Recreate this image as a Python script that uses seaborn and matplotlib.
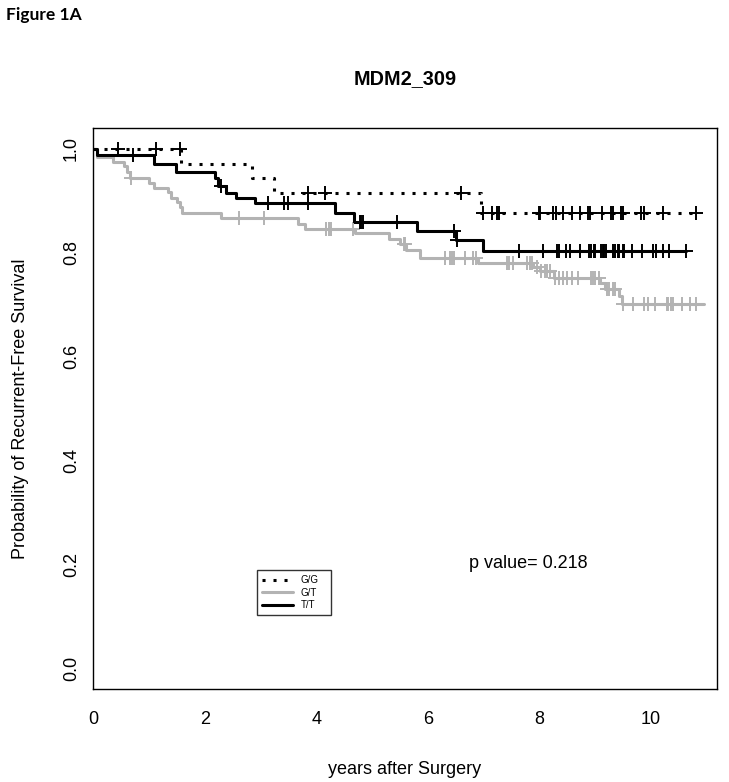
import numpy as np
import pandas as pd
import matplotlib
matplotlib.use("Agg")
import matplotlib.pyplot as plt
import seaborn as sns
from matplotlib.lines import Line2D

sns.set_style("white")
plt.rcParams['font.family'] = ['Liberation Sans', 'DejaVu Sans']
plt.rcParams['text.color'] = 'black'
plt.rcParams['axes.labelcolor'] = 'black'
plt.rcParams['xtick.color'] = 'black'
plt.rcParams['ytick.color'] = 'black'

# ---------------- data ----------------
groups = ["G/G", "G/T", "T/T"]

gg_times = [0, 1.58, 2.84, 3.25, 6.95]
gg_surv = [1.0, 0.971, 0.943, 0.914, 0.876]
gg_end = 10.8
gg_censor = [0.44, 1.12, 1.56, 3.86, 4.15, 6.6, 6.98, 7.14, 7.23, 7.27, 7.99, 8.0,
             8.24, 8.29, 8.42, 8.59, 8.73, 8.87, 8.91, 9.12, 9.28, 9.32, 9.46,
             9.49, 9.82, 9.88, 10.21, 10.8]

gt_times = [0, 0.08, 0.35, 0.56, 0.6, 0.67, 1.0, 1.1, 1.34, 1.4, 1.5, 1.56, 1.6,
            2.3, 3.68, 3.79, 4.7, 5.3, 5.5, 5.6, 5.85, 6.89, 7.88, 8.0, 8.25,
            9.08, 9.18, 9.42, 9.47]
gt_surv = [1.0, 0.985, 0.975, 0.966, 0.956, 0.944, 0.935, 0.925, 0.916, 0.906,
           0.897, 0.887, 0.877, 0.866, 0.855, 0.845, 0.837, 0.826, 0.816, 0.805,
           0.789, 0.780, 0.772, 0.764, 0.751, 0.741, 0.730, 0.716, 0.701]
gt_end = 10.95
gt_censor = [0.68, 2.61, 3.06, 4.18, 4.22, 4.26, 4.65, 5.57, 5.59, 6.3, 6.39,
             6.43, 6.47, 6.67, 6.8, 6.86, 7.41, 7.45, 7.52, 7.78, 7.82, 7.86,
             7.95, 8.03, 8.09, 8.13, 8.18, 8.27, 8.34, 8.42, 8.5, 8.59, 8.68,
             8.93, 8.95, 9.0, 9.06, 9.2, 9.24, 9.31, 9.35, 9.49, 9.67, 9.88,
             9.95, 10.06, 10.28, 10.3, 10.35, 10.39, 10.55, 10.69, 10.81]

tt_times = [0, 0.07, 1.1, 1.48, 2.18, 2.24, 2.38, 2.57, 2.9, 4.33, 4.68, 5.8,
            6.5, 6.98]
tt_surv = [1.0, 0.989, 0.971, 0.956, 0.943, 0.929, 0.914, 0.905, 0.895, 0.877,
           0.860, 0.841, 0.824, 0.803]
tt_end = 10.63
tt_censor = [0.72, 2.3, 3.13, 3.43, 3.49, 3.85, 4.78, 4.81, 4.84, 5.44, 6.46,
             6.53, 7.63, 8.06, 8.31, 8.35, 8.47, 8.54, 8.72, 8.88, 8.93, 8.97,
             9.0, 9.1, 9.13, 9.16, 9.19, 9.32, 9.36, 9.4, 9.43, 9.49, 9.52,
             9.66, 9.84, 10.03, 10.09, 10.22, 10.32, 10.63]

x_ticks = [0, 2, 4, 6, 8, 10]
y_ticks = [0.0, 0.2, 0.4, 0.6, 0.8, 1.0]
p_text = "p value= 0.218"

# ---------------- build tables ----------------
series = {
    "G/G": (gg_times, gg_surv, gg_end, gg_censor),
    "G/T": (gt_times, gt_surv, gt_end, gt_censor),
    "T/T": (tt_times, tt_surv, tt_end, tt_censor),
}
styles = {
    "G/G": dict(color="black", ls=(0, (1.0, 2.6)), lw=2.2),
    "G/T": dict(color="#b3b3b3", ls="-", lw=2.2),
    "T/T": dict(color="black", ls="-", lw=2.2),
}

fig = plt.figure(figsize=(7.29, 7.82), dpi=100)
ax = fig.add_axes([0.1276, 0.1189, 0.8560, 0.7174])

for g in ["G/T", "T/T", "G/G"]:
    t, s, end, cens = series[g]
    st = styles[g]
    df = pd.DataFrame({"time": list(t) + [end], "surv": list(s) + [s[-1]]})
    sns.lineplot(data=df, x="time", y="surv", ax=ax, estimator=None, sort=False,
                 drawstyle="steps-post", color=st["color"], linestyle=st["ls"],
                 linewidth=st["lw"])
    idx = np.searchsorted(np.asarray(t), np.asarray(cens), side="right") - 1
    cdf = pd.DataFrame({"time": cens, "surv": np.asarray(s)[idx]})
    sns.scatterplot(data=cdf, x="time", y="surv", ax=ax, marker="+", s=95,
                    color=st["color"], linewidth=1.4, zorder=3)

ax.set_xlim(0, 11.18)
ax.set_ylim(-0.04, 1.04)
ax.set_xticks(x_ticks)
ax.set_xticklabels([str(v) for v in x_ticks])
ax.set_yticks(y_ticks)
ax.set_yticklabels([f"{v:.1f}" for v in y_ticks], rotation=90, va="center")
ax.tick_params(axis="both", direction="out", length=6.5, width=1.0,
               labelsize=13, color="black", labelcolor="black")
ax.tick_params(axis="x", pad=9)
ax.tick_params(axis="y", pad=3)
for sp in ax.spines.values():
    sp.set_visible(True)
    sp.set_color("black")
    sp.set_linewidth(1.0)

ax.set_xlabel("years after Surgery", fontsize=13, labelpad=24, color="black")
ax.set_ylabel("Probability of Recurrent-Free Survival", fontsize=13,
              labelpad=24, color="black")

handles = [Line2D([], [], color=styles[g]["color"], linestyle=styles[g]["ls"],
                  linewidth=styles[g]["lw"]) for g in groups]
leg = ax.legend(handles, groups, loc="lower left",
                bbox_to_anchor=(0.263, 0.132, 0.118, 0.087), mode="expand",
                fontsize=7, frameon=True, fancybox=False, handlelength=3.2,
                handletextpad=0.8, borderpad=0.5, labelspacing=0.25,
                borderaxespad=0)
leg.get_frame().set_edgecolor("black")
leg.get_frame().set_linewidth(1.0)
for txt in leg.get_texts():
    txt.set_color("black")

ax.text(0.697, 0.2246, p_text, transform=ax.transAxes, ha="center",
        va="center", fontsize=13, color="black")

fig.text(0.5556, 0.900, "MDM2_309", ha="center", va="center", fontsize=14.3,
         fontweight="bold", color="black")
fig.text(0.008, 0.981, "Figure 1A", ha="left", va="center", fontsize=12.5,
         fontweight="bold", family=["Lato", "DejaVu Sans"], color="black")

fig.savefig("out.png", dpi=100)
